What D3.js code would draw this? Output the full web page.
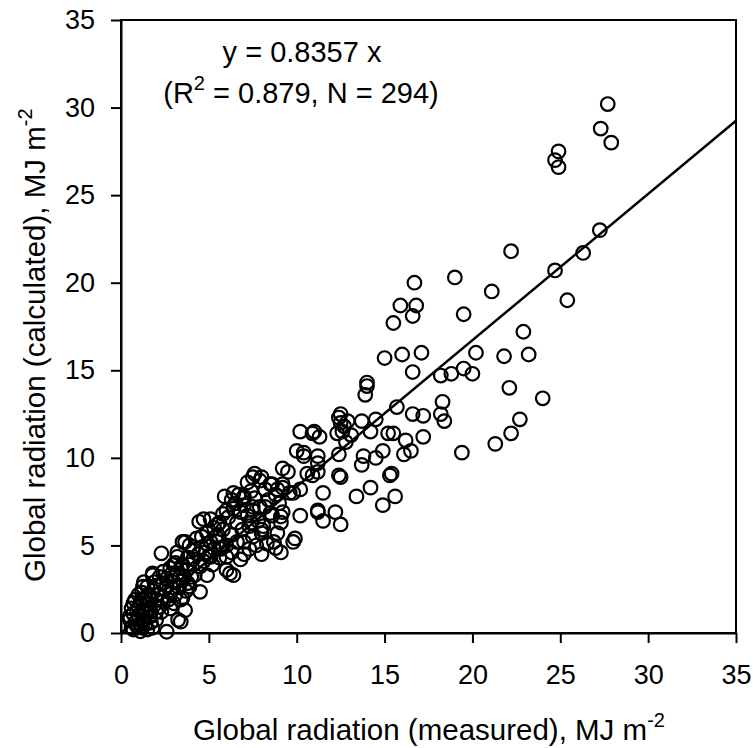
<!DOCTYPE html>
<html>
<head>
<meta charset="utf-8">
<script src="https://cdn.jsdelivr.net/npm/d3@7"></script>
<style>
  html, body { margin: 0; padding: 0; background: #fff; }
  svg text { font-family: "Liberation Sans", Arial, sans-serif; fill: #000; }
</style>
</head>
<body>
<div id="chart"></div>
<script>
// measured vs calculated global radiation, MJ m-2
const points = [
  // high end
  [27.7,30.2],[27.3,28.8],[27.9,28.0],[24.9,27.5],[24.7,27.0],[24.9,26.6],[27.25,23.0],[26.3,21.7],
  [24.7,20.7],[22.2,21.8],[19.0,20.3],[21.1,19.5],[25.4,19.0],[19.5,18.2],[22.9,17.2],[20.2,16.0],
  [21.8,15.8],[23.2,15.9],[18.2,14.7],[18.8,14.8],[19.5,15.1],[20.0,14.8],[22.1,14.0],[24.0,13.4],
  [18.3,13.2],[18.2,12.5],[18.4,12.1],[22.7,12.2],[22.2,11.4],[21.3,10.8],[19.4,10.3],[17.2,12.4],
  [17.1,16.0],[17.2,11.2],[16.7,20.0],
  // 12 - 17
  [15.9,18.7],[16.8,18.7],[15.5,17.7],[16.6,18.1],[15.0,15.7],[16.0,15.9],[16.6,14.9],[14.0,14.3],
  [14.0,14.1],[13.9,13.6],[15.7,12.9],[16.6,12.5],[14.5,12.2],[13.7,12.1],[12.5,12.5],[12.5,12.0],
  [12.6,11.5],[13.1,11.3],[12.8,10.9],[12.3,11.4],[15.2,11.4],[15.5,11.4],[16.2,11.0],[16.5,10.4],
  [16.1,10.2],[14.9,10.4],[14.5,10.0],[13.8,10.1],[13.7,9.6],[12.4,9.0],[12.5,8.9],[15.4,9.1],
  [15.3,9.0],[14.2,8.3],[15.6,7.8],[13.4,7.8],[14.9,7.3],[12.2,6.9],[12.5,6.2],[12.4,12.3],
  [12.7,11.8],[12.9,12.1],[14.2,11.5],[12.4,10.2],
  // 9 - 12
  [10.2,11.5],[10.9,11.4],[11.3,11.2],[11.0,11.5],[10.4,10.3],[10.4,10.1],[11.2,10.1],[11.2,9.7],
  [10.6,9.1],[11.2,9.2],[10.9,9.0],[10.2,6.7],[9.9,5.4],[11.5,8.0],[11.2,6.9],[11.5,6.4],
  [9.2,9.4],[9.8,8.0],[9.2,8.3],[9.2,6.9],[9.1,6.3],[10.2,8.2],[9.6,8.0],[11.2,7.0],
  [9.8,5.2],[9.5,9.2],[10.0,10.4],
  // 6 - 9
  [8.6,8.5],[8.0,8.9],[7.6,9.1],[7.2,8.6],[8.1,6.1],[8.0,5.7],[8.7,5.2],[8.0,4.5],
  [9.1,4.6],[7.5,5.5],[7.0,5.2],[7.0,4.5],[8.4,7.6],[8.8,7.9],[8.2,7.2],[9.0,7.4],
  [8.6,6.7],[8.9,8.2],[7.5,8.9],[7.9,8.7],[8.5,8.5],[9.2,8.5],[8.9,5.7],[9.1,6.65],
  [8.0,5.9],[7.4,6.3],[6.3,7.6],[6.0,7.0],[8.3,5.1],[8.8,4.85],[7.9,7.2],[7.0,7.8],
  [7.5,7.0],[8.5,6.85],[5.9,7.8],[6.4,8.0],[6.95,7.7],[7.6,7.7],[6.5,7.4],[7.5,7.2],
  [6.8,6.9],[6.2,3.4],[6.4,3.3],[6.0,3.6],[6.1,6.6],[6.6,6.3],[7.2,6.7],[7.8,6.4],
  [6.3,5.6],[6.9,5.9],[7.3,6.1],[6.6,5.2],[6.3,4.6],[7.7,5.0],[7.3,4.8],[6.8,4.2],
  [6.4,7.1],[7.0,7.3],[7.4,8.1],[6.7,7.9],[8.2,8.2],
  // 4 - 6
  [5.5,6.2],[4.45,6.35],[5.8,5.9],[5.4,5.5],[6.0,5.0],[5.7,4.8],[5.1,5.2],[5.0,4.4],
  [5.6,4.3],[4.9,5.7],[5.3,6.0],[5.8,6.8],[5.6,6.3],[5.1,6.5],[4.7,6.5],[4.9,5.1],
  [4.6,4.9],[5.5,5.6],[5.8,4.9],[6.0,4.35],[5.1,4.35],[4.5,3.8],[4.9,3.3],[4.5,2.35],
  [4.1,4.2],[4.3,5.4],[4.8,4.6],[5.3,4.8],[4.4,4.5],[5.2,3.9],[4.2,3.3],[4.7,4.1],
  [5.5,5.2],[4.6,5.5],
  // 2 - 4
  [3.65,5.2],[2.3,4.55],[3.2,4.35],[4.1,4.75],[1.8,3.3],[2.8,3.7],[3.5,3.9],[3.4,1.9],
  [3.65,1.3],[3.4,0.65],[2.6,0.07],[3.2,4.6],[3.5,5.2],[3.9,5.0],[3.8,2.85],[3.5,2.0],
  [3.25,0.75],[2.4,2.85],[2.8,2.3],[3.2,3.4],[3.75,3.6],[3.9,2.65],[3.0,1.7],[2.2,1.5],
  [2.0,0.75],[2.4,3.5],[2.6,3.1],[3.0,2.9],[3.3,2.6],[2.9,3.4],[3.6,3.2],[2.5,2.5],
  [2.1,2.2],[2.7,1.9],[3.1,2.2],[3.7,2.4],[2.3,1.2],[2.8,1.4],[2.0,2.7],[2.6,2.7],
  [3.4,3.7],[3.9,3.9],[4.0,3.2],[2.2,3.2],[3.0,3.9],[2.9,2.6],[3.5,3.0],[2.4,1.8],
  [3.8,4.3],[3.1,4.0],
  // 0 - 2
  [1.25,2.65],[0.7,1.7],[0.5,0.95],[0.9,0.4],[1.5,0.2],[1.5,2.65],[1.65,1.9],[1.1,1.7],
  [0.7,1.1],[0.5,0.75],[1.65,0.95],[1.25,1.35],[1.8,3.4],[1.0,1.0],[1.3,0.7],[0.8,0.6],
  [1.2,0.3],[0.6,0.3],[1.0,2.2],[1.4,2.0],[1.8,2.4],[1.6,1.4],[1.9,1.6],[1.7,1.2],
  [1.1,0.5],[0.9,1.3],[1.4,1.1],[0.8,1.9],[1.3,2.9],[1.9,2.9],[1.2,1.9],[1.7,0.6],
  [2.0,1.9],[1.5,1.6],[0.6,1.4],[1.8,0.3],[1.1,0.1],[1.4,0.5],[2.0,1.2],[0.7,0.2],
  [1.6,2.2],[1.2,2.3],[1.0,1.5]
];
const ticks = [0, 5, 10, 15, 20, 25, 30, 35];
const slope = 0.8357;
const r2 = 0.879;
const nObs = 294;

const width = 753;
const height = 748;

const svg = d3.create('svg')
  .attr('width', width)
  .attr('height', height);

d3.select('#chart').append(() => svg.node());

const x = d3.scaleLinear().domain([0, 35]).range([121, 736]);
const y = d3.scaleLinear().domain([0, 35]).range([633, 20]);

// frame
svg.append('rect')
  .attr('x', x(0)).attr('y', y(35))
  .attr('width', x(35) - x(0)).attr('height', y(0) - y(35))
  .attr('fill', 'none').attr('stroke', '#000').attr('stroke-width', 2);

const xAxis = svg.append('g')
  .attr('transform', `translate(0,${y(0)})`)
  .call(d3.axisBottom(x).tickValues(ticks).tickSize(10).tickPadding(22).tickSizeOuter(0));

const yAxis = svg.append('g')
  .attr('transform', `translate(${x(0)},0)`)
  .call(d3.axisLeft(y).tickValues(ticks).tickSize(10).tickPadding(16).tickSizeOuter(0));

[xAxis, yAxis].forEach(g => {
  g.select('.domain').attr('stroke-width', 2);
  g.selectAll('.tick line').attr('stroke-width', 2);
  g.selectAll('.tick text')
    .attr('font-size', 27)
    .attr('font-family', null);
});

// observations
svg.append('g')
  .selectAll('circle')
  .data(points)
  .join('circle')
  .attr('cx', d => x(d[0]))
  .attr('cy', d => y(d[1]))
  .attr('r', 6.8)
  .attr('fill', 'none')
  .attr('stroke', '#000')
  .attr('stroke-width', 2.2);

// regression through the origin
svg.append('line')
  .attr('x1', x(0)).attr('y1', y(0))
  .attr('x2', x(35)).attr('y2', y(35 * slope))
  .attr('stroke', '#000')
  .attr('stroke-width', 2.5);

// equation
const eq = svg.append('g').attr('font-size', 29);
eq.append('text')
  .attr('x', 302).attr('y', 62)
  .attr('text-anchor', 'middle')
  .text(`y = ${slope} x`);
const eq2 = eq.append('text')
  .attr('x', 301).attr('y', 103)
  .attr('text-anchor', 'middle');
eq2.append('tspan').text('(R');
eq2.append('tspan').attr('dy', -13).attr('font-size', 20).text('2');
eq2.append('tspan').attr('dy', 13).text(` = ${r2}, N = ${nObs})`);

// axis titles
const xt = svg.append('text')
  .attr('x', 193).attr('y', 740)
  .attr('font-size', 29.5);
xt.append('tspan').text('Global radiation (measured), MJ m');
xt.append('tspan').attr('dy', -13).attr('font-size', 20).text('-2');

const yt = svg.append('text')
  .attr('transform', 'translate(45,582) rotate(-90)')
  .attr('font-size', 29.5);
yt.append('tspan').text('Global radiation (calculated), MJ m');
yt.append('tspan').attr('dy', -13).attr('font-size', 20).text('-2');
</script>
</body>
</html>
